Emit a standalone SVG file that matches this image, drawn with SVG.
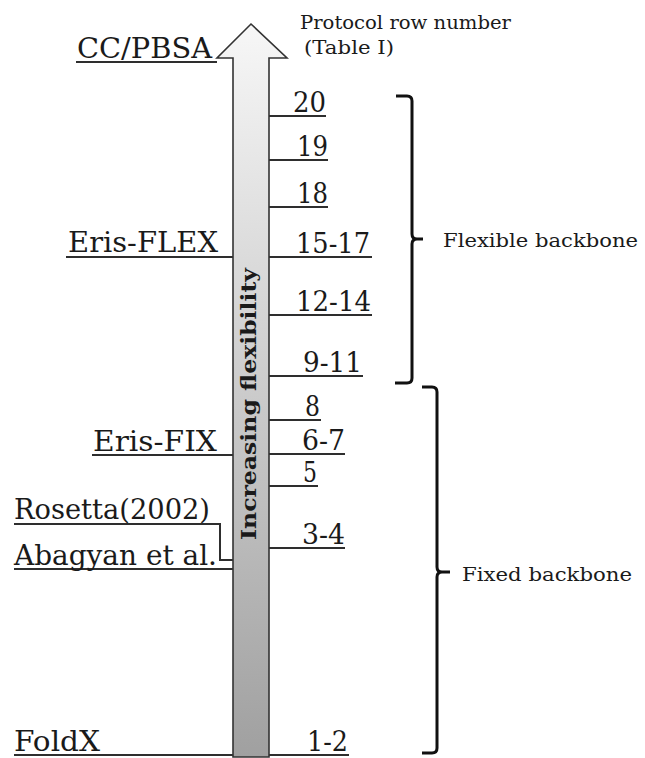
<svg xmlns="http://www.w3.org/2000/svg" width="645" height="758" viewBox="0 0 645 758">
<defs>
<linearGradient id="shaftGrad" x1="0" y1="0" x2="0" y2="1">
<stop offset="0" stop-color="#f7f7f7"/>
<stop offset="1" stop-color="#a0a0a0"/>
</linearGradient>
<style>
.lbl{font-family:"DejaVu Serif","Liberation Serif",serif;font-size:27px;fill:#1a1a1a}
.small{font-family:"DejaVu Serif","Liberation Serif",serif;font-size:19px;fill:#1a1a1a}
.ln{stroke:#2e2e2e;stroke-width:2;fill:none}
.brace{stroke:#111;stroke-width:3;fill:none;stroke-linejoin:round}
.axis{font-family:"DejaVu Serif","Liberation Serif",serif;font-size:21px;font-weight:bold;fill:#1a1a1a}
</style>
</defs>
<rect width="645" height="758" fill="#ffffff"/>

<g id="connectors">
<line class="ln" x1="76" y1="62" x2="217" y2="62"/>
<line class="ln" x1="66" y1="257" x2="233" y2="257"/>
<line class="ln" x1="92" y1="455" x2="233" y2="455"/>
<polyline class="ln" points="14,524 220,524 220,560 233,560"/>
<line class="ln" x1="14" y1="569" x2="233" y2="569"/>
<line class="ln" x1="14" y1="755" x2="349" y2="755"/>
<line class="ln" x1="269" y1="116" x2="326" y2="116"/>
<line class="ln" x1="269" y1="160" x2="328" y2="160"/>
<line class="ln" x1="269" y1="207" x2="328" y2="207"/>
<line class="ln" x1="269" y1="257" x2="372" y2="257"/>
<line class="ln" x1="269" y1="315" x2="372" y2="315"/>
<line class="ln" x1="269" y1="376" x2="363" y2="376"/>
<line class="ln" x1="269" y1="420" x2="321" y2="420"/>
<line class="ln" x1="269" y1="454" x2="345" y2="454"/>
<line class="ln" x1="269" y1="486" x2="318" y2="486"/>
<line class="ln" x1="269" y1="548" x2="345" y2="548"/>
</g>

<g id="arrow">
<path d="M233,757 L233,58 L217,58 L251,24 L287,58 L269,58 L269,757 Z" fill="url(#shaftGrad)" stroke="#333" stroke-width="1.6" stroke-linejoin="miter"/>
<text class="axis" transform="translate(256,404) rotate(-90)" text-anchor="middle" textLength="272" lengthAdjust="spacingAndGlyphs">Increasing flexibility</text>
</g>

<g id="header">
<text class="small" x="300" y="29" textLength="211" lengthAdjust="spacingAndGlyphs">Protocol row number</text>
<text class="small" x="304" y="54" textLength="90" lengthAdjust="spacingAndGlyphs">(Table I)</text>
</g>

<g id="cc-pbsa"><text class="lbl" x="77" y="58" textLength="135" lengthAdjust="spacingAndGlyphs">CC/PBSA</text></g>
<g id="eris-flex"><text class="lbl" x="68" y="252" textLength="150" lengthAdjust="spacingAndGlyphs">Eris-FLEX</text></g>
<g id="eris-fix"><text class="lbl" x="93" y="451" textLength="124" lengthAdjust="spacingAndGlyphs">Eris-FIX</text></g>
<g id="rosetta"><text class="lbl" x="14" y="519" textLength="196" lengthAdjust="spacingAndGlyphs">Rosetta(2002)</text></g>
<g id="abagyan"><text class="lbl" x="14" y="565" textLength="203" lengthAdjust="spacingAndGlyphs">Abagyan et al.</text></g>
<g id="foldx"><text class="lbl" x="14" y="751" textLength="86" lengthAdjust="spacingAndGlyphs">FoldX</text></g>

<g id="row-20"><text class="lbl" x="293" y="112" textLength="33" lengthAdjust="spacingAndGlyphs">20</text></g>
<g id="row-19"><text class="lbl" x="297" y="156" textLength="31" lengthAdjust="spacingAndGlyphs">19</text></g>
<g id="row-18"><text class="lbl" x="297" y="203" textLength="31" lengthAdjust="spacingAndGlyphs">18</text></g>
<g id="row-15-17"><text class="lbl" x="296" y="253" textLength="74" lengthAdjust="spacingAndGlyphs">15-17</text></g>
<g id="row-12-14"><text class="lbl" x="296" y="311" textLength="75" lengthAdjust="spacingAndGlyphs">12-14</text></g>
<g id="row-9-11"><text class="lbl" x="303" y="372" textLength="59" lengthAdjust="spacingAndGlyphs">9-11</text></g>
<g id="row-8"><text class="lbl" x="305" y="416" textLength="15" lengthAdjust="spacingAndGlyphs">8</text></g>
<g id="row-6-7"><text class="lbl" x="302" y="450" textLength="43" lengthAdjust="spacingAndGlyphs">6-7</text></g>
<g id="row-5"><text class="lbl" x="303" y="482" textLength="14" lengthAdjust="spacingAndGlyphs">5</text></g>
<g id="row-3-4"><text class="lbl" x="302" y="544" textLength="43" lengthAdjust="spacingAndGlyphs">3-4</text></g>
<g id="row-1-2"><text class="lbl" x="307" y="751" textLength="41" lengthAdjust="spacingAndGlyphs">1-2</text></g>

<g id="flexible-backbone">
<path class="brace" d="M396,96 L407,96 Q412,96 412,101 L412,234 Q412,239 417,239 L423,239 M417,239 Q412,239 412,244 L412,378 Q412,383 407,383 L395,383"/>
<text class="small" x="443" y="247" textLength="195" lengthAdjust="spacingAndGlyphs">Flexible backbone</text>
</g>

<g id="fixed-backbone">
<path class="brace" d="M422,387 L432,387 Q437,387 437,392 L437,567 Q437,572 442,572 L450,572 M442,572 Q437,572 437,577 L437,748 Q437,753 432,753 L422,753"/>
<text class="small" x="462" y="581" textLength="170" lengthAdjust="spacingAndGlyphs">Fixed backbone</text>
</g>
</svg>
